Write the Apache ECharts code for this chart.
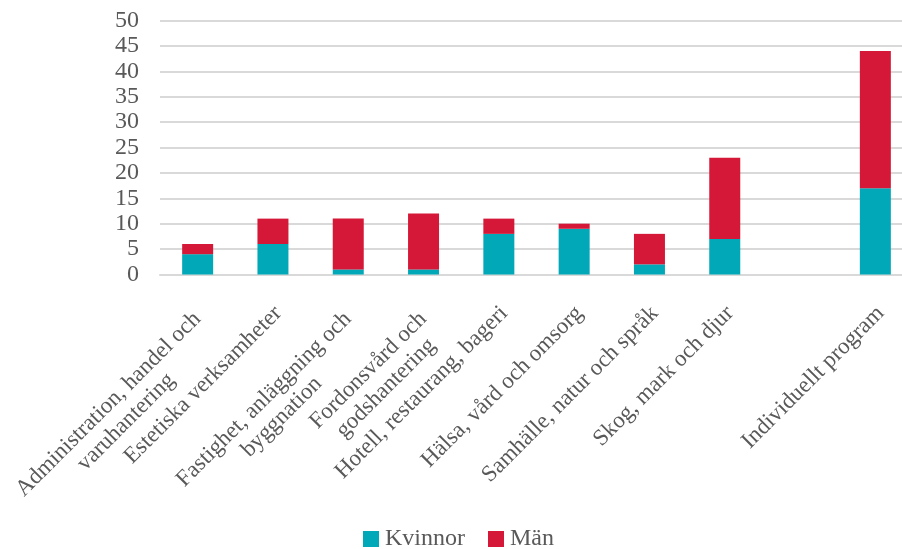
<!doctype html>
<html>
    <head>
        <meta charset="utf-8">
        <title>Program - Kvinnor och Män</title>
        <style>
            html, body { margin: 0; padding: 0; background: #fff; }
            #main { width: 902px; height: 549px; }
        </style>
    </head>
    <body>
        <div id="main"></div>
        <script src="https://cdn.jsdelivr.net/npm/echarts@6/dist/echarts.min.js"></script>
        <script>
            var categories = [
                'Administration, handel och\nvaruhantering',
                'Estetiska verksamheter',
                'Fastighet, anläggning och\nbyggnation',
                'Fordonsvård och\ngodshantering',
                'Hotell, restaurang, bageri',
                'Hälsa, vård och omsorg',
                'Samhälle, natur och språk',
                'Skog, mark och djur',
                '',
                'Individuellt program'
            ];
            var kvinnor = [4, 6, 1, 1, 8, 9, 2, 7, null, 17];
            var man = [2, 5, 10, 11, 3, 1, 6, 16, null, 27];

            var font = "'Liberation Serif', 'Times New Roman', serif";
            var textColor = '#595959';

            var chart = echarts.init(document.getElementById('main'));

            chart.setOption({
                animation: false,
                grid: {
                    left: 160,
                    width: 753,
                    top: 20.5,
                    height: 254,
                    outerBoundsMode: 'none',
                    containLabel: false
                },
                legend: {
                    data: ['Kvinnor', 'Män'],
                    top: 522,
                    left: 358,
                    itemWidth: 16,
                    itemHeight: 16,
                    itemGap: 23,
                    icon: 'rect',
                    textStyle: {
                        fontFamily: font,
                        fontSize: 24,
                        color: textColor,
                        padding: [0, 0, 0, 1]
                    }
                },
                xAxis: {
                    type: 'category',
                    data: categories,
                    axisLine: { lineStyle: { color: '#d9d9d9', width: 2 } },
                    axisTick: { show: false },
                    axisLabel: {
                        interval: 0,
                        rotate: 45,
                        margin: 23,
                        verticalAlign: 'top',
                        formatter: function (v) {
                            var lines = v.split('\n');
                            var key = lines.length > 1 ? 'm' : 'c';
                            return lines.map(function (s) {
                                return '{' + key + '|' + s + '}';
                            }).join('\n');
                        },
                        rich: {
                            c: {
                                align: 'center',
                                fontFamily: font,
                                fontSize: 23,
                                color: textColor,
                                lineHeight: 25,
                                padding: [0, 5, 0, 0]
                            },
                            m: {
                                align: 'center',
                                fontFamily: font,
                                fontSize: 23,
                                color: textColor,
                                lineHeight: 25,
                                padding: [0, 13, 0, 0]
                            }
                        }
                    }
                },
                yAxis: {
                    type: 'value',
                    min: 0,
                    max: 50,
                    interval: 5,
                    axisLine: { show: false },
                    axisTick: { show: false },
                    axisLabel: {
                        margin: 21,
                        fontFamily: font,
                        fontSize: 24,
                        color: textColor
                    },
                    splitLine: { lineStyle: { color: '#d9d9d9', width: 2 } }
                },
                series: [
                    {
                        name: 'Kvinnor',
                        type: 'bar',
                        stack: 'total',
                        barWidth: 31,
                        itemStyle: { color: '#00a8b8' },
                        data: kvinnor
                    },
                    {
                        name: 'Män',
                        type: 'bar',
                        stack: 'total',
                        barWidth: 31,
                        itemStyle: { color: '#d51837' },
                        data: man
                    }
                ]
            });

            window.addEventListener('resize', function () {
                chart.resize();
            });
        </script>
    </body>
</html>
